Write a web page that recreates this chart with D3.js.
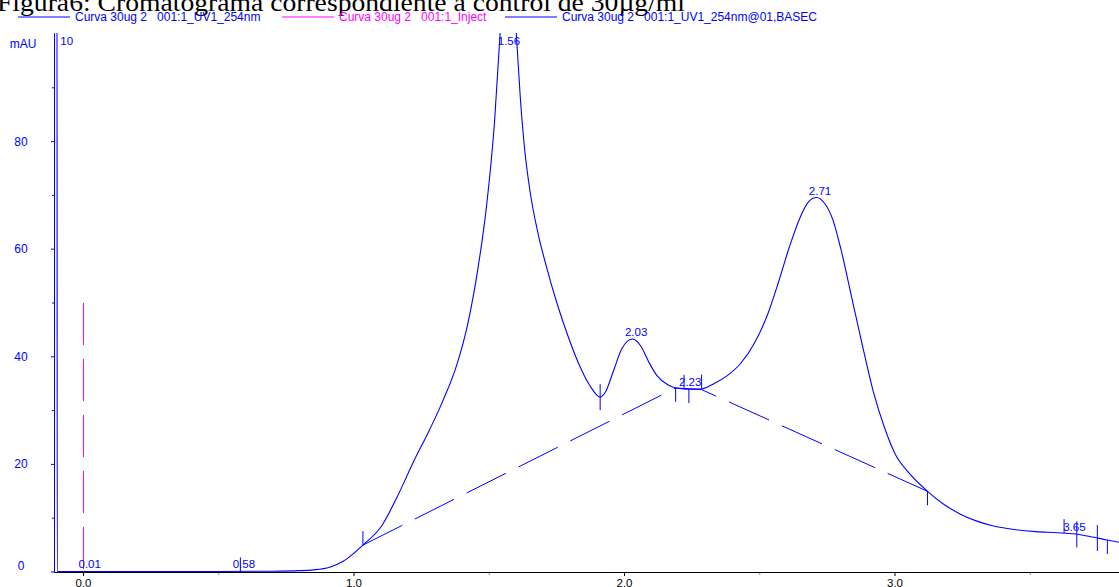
<!DOCTYPE html>
<html>
<head>
<meta charset="utf-8">
<script src="https://cdn.jsdelivr.net/npm/d3@7"></script>
<style>
  body { margin: 0; background: #fff; }
  text { white-space: pre; }
</style>
</head>
<body>
<div id="chart"></div>
<script>
// retention time (min) / signal (mAU)
const uvTimes = [-0.109, -0.1085, -0.108, -0.098, -0.097, 0.2, 0.5, 0.7, 0.8, 0.85, 0.91, 0.96, 1.033,
    1.10, 1.16, 1.22, 1.28, 1.33, 1.38, 1.42, 1.46, 1.49, 1.52, 1.54, 1.57, 1.60, 1.615, 1.63, 1.65,
    1.68, 1.71, 1.75, 1.79, 1.83, 1.87, 1.91, 1.93, 1.96, 1.99, 2.03, 2.06, 2.09, 2.12, 2.16, 2.19,
    2.23, 2.28, 2.33, 2.38, 2.43, 2.48, 2.53, 2.57, 2.61, 2.65, 2.68, 2.71, 2.74, 2.77, 2.80, 2.84,
    2.88, 2.92, 2.96, 3.00, 3.05, 3.12, 3.18, 3.24, 3.30, 3.36, 3.44, 3.52, 3.60, 3.66, 3.72, 3.78, 3.83];
const uvValues = [0.1, 0.1, 120, 120, 0.1, 0.1, 0.1, 0.15, 0.25, 0.4, 0.9, 2.0, 5.0,
    8.4, 14.0, 20.5, 26.5, 32, 38.5, 46, 57, 68, 84, 100, 115, 100, 88, 79, 71,
    63, 57, 50, 44, 38.8, 34.8, 32.5, 33.5, 37.5, 41.5, 43.3, 42, 39, 36.5, 34.8, 34.2,
    34.0, 34.0, 35.0, 36.5, 38.8, 42.5, 48, 54, 60.5, 66, 68.8, 69.6, 68.5, 65.5, 60, 51,
    42, 33.5, 27, 22, 18.5, 15.0, 12.6, 10.8, 9.5, 8.6, 7.9, 7.5, 7.3, 7.1, 6.6, 6.0, 5.5];

const injectTimes = [0.0, 0.0];
const injectValues = [50, 0];

const baseTimes = [1.033, 2.189, 2.285, 3.12];
const baseValues = [5.0, 34.2, 33.9, 15.0];

const peakLabels = ["-0.10", "0.01", "0.58", "1.56", "2.03", "2.23", "2.71", "3.65"];
const peakTimes = [-0.10, 0.01, 0.58, 1.56, 2.03, 2.23, 2.71, 3.65];

// peak delimiter ticks: time and which side of the trace they stick out
const delimTimes = [0.58, 1.033, 1.91, 2.189, 2.22, 2.238, 2.285, 3.12, 3.625, 3.672, 3.748, 3.785];
const delimKinds = ["up", "up", "both", "down", "up", "down", "up", "down", "up", "both", "both", "down"];

const xTicks = [0, 1, 2, 3];
const xMinorTicks = [0.5, 1.5, 2.5, 3.5];
const yTicks = [0, 20, 40, 60, 80];
const yMinorTicks = [10, 30, 50, 70, 90];

const legendNames = ["Curva 30ug 2   001:1_UV1_254nm", "Curva 30ug 2   001:1_Inject", "Curva 30ug 2   001:1_UV1_254nm@01,BASEC"];

const w = 1119;
const h = 587;
const pLeft = 54, pRight = 1119, pTop = 34, pBottom = 572;
const blue = "#0000ff";
const magenta = "#ff00ff";

const svg = d3.select("#chart").append("svg")
    .attr("width", w)
    .attr("height", h)
    .style("font-family", "'Liberation Sans', Arial, sans-serif");

const x = d3.scaleLinear().domain([-0.109, 3.828]).range([pLeft, pRight]);
const y = d3.scaleLinear().domain([0, 100]).range([pBottom, pTop]);

// title, cut off at the top like in the source
svg.append("text")
    .attr("x", -3)
    .attr("y", 11)
    .attr("font-family", "'Liberation Serif', 'Times New Roman', serif")
    .attr("font-size", 26)
    .attr("textLength", 688)
    .attr("lengthAdjust", "spacingAndGlyphs")
    .text("Figura6: Cromatograma correspondiente a control de 30µg/ml");

// legend
const legendX = [18, 282, 505];
const legendColors = [blue, magenta, blue];
const legend = svg.selectAll("g.legend")
    .data(legendNames)
    .enter().append("g")
    .attr("transform", (d, i) => `translate(${legendX[i]},17)`);
legend.append("line")
    .attr("x1", 0).attr("x2", 52)
    .attr("stroke", (d, i) => legendColors[i]);
legend.append("text")
    .attr("x", 57)
    .attr("y", 4)
    .attr("font-size", 12)
    .attr("fill", (d, i) => legendColors[i])
    .text(d => d);

const defs = svg.append("defs");
defs.append("clipPath").attr("id", "plot")
    .append("rect").attr("x", pLeft).attr("y", pTop - 1).attr("width", pRight - pLeft).attr("height", pBottom - pTop + 2);
defs.append("clipPath").attr("id", "labels")
    .append("rect").attr("x", 60).attr("y", pTop - 1).attr("width", pRight - 60).attr("height", pBottom - pTop + 2);

// x axis
svg.append("line")
    .attr("x1", pLeft).attr("x2", pRight)
    .attr("y1", pBottom + 0.5).attr("y2", pBottom + 0.5)
    .attr("stroke", "#000");
svg.selectAll("line.xtick")
    .data(xTicks)
    .enter().append("line")
    .attr("x1", d => x(d)).attr("x2", d => x(d))
    .attr("y1", pBottom).attr("y2", pBottom + 4)
    .attr("stroke", "#000");
svg.selectAll("line.xminor")
    .data(xMinorTicks)
    .enter().append("line")
    .attr("x1", d => x(d)).attr("x2", d => x(d))
    .attr("y1", pBottom + 1).attr("y2", pBottom + 3)
    .attr("stroke", "#999");
svg.selectAll("text.xlabel")
    .data(xTicks)
    .enter().append("text")
    .attr("x", d => x(d))
    .attr("y", pBottom + 14.5)
    .attr("text-anchor", "middle")
    .attr("font-size", 11.5)
    .text(d => d3.format(".1f")(d));

// y axis
svg.append("line")
    .attr("x1", pLeft + 0.5).attr("x2", pLeft + 0.5)
    .attr("y1", pTop).attr("y2", pBottom + 1)
    .attr("stroke", blue);
svg.selectAll("line.ytick")
    .data(yTicks)
    .enter().append("line")
    .attr("x1", pLeft - 3).attr("x2", pLeft)
    .attr("y1", d => y(d)).attr("y2", d => y(d))
    .attr("stroke", blue);
svg.selectAll("line.yminor")
    .data(yMinorTicks)
    .enter().append("line")
    .attr("x1", pLeft - 2).attr("x2", pLeft)
    .attr("y1", d => y(d)).attr("y2", d => y(d))
    .attr("stroke", blue);
svg.selectAll("text.ylabel")
    .data(yTicks)
    .enter().append("text")
    .attr("x", 21)
    .attr("y", d => Math.min(y(d), y(0) - 6) + 4)
    .attr("text-anchor", "middle")
    .attr("font-size", 12)
    .attr("fill", blue)
    .text(d => d);
svg.append("text")
    .attr("x", 23)
    .attr("y", 48)
    .attr("text-anchor", "middle")
    .attr("font-size", 12)
    .attr("fill", blue)
    .text("mAU");

const plot = svg.append("g").attr("clip-path", "url(#plot)");

const line = d3.line()
    .x(d => x(d[0]))
    .y(d => y(d[1]))
    .curve(d3.curveMonotoneX);

const uv = d3.zip(uvTimes, uvValues);
const lookup = d3.scaleLinear().domain(uvTimes.slice(4)).range(uvValues.slice(4));

// baseline (dashed)
plot.append("path")
    .datum(d3.zip(baseTimes, baseValues))
    .attr("d", d3.line().x(d => x(d[0])).y(d => y(d[1])))
    .attr("fill", "none")
    .attr("stroke", blue)
    .attr("stroke-dasharray", "44,14");

// inject marker
plot.append("path")
    .datum(d3.zip(injectTimes, injectValues))
    .attr("d", d3.line().x(d => x(d[0])).y(d => y(d[1])))
    .attr("fill", "none")
    .attr("stroke", magenta)
    .attr("stroke-dasharray", "42,14");

// UV trace
plot.append("path")
    .datum(uv)
    .attr("d", line)
    .attr("fill", "none")
    .attr("stroke", blue)
    .attr("stroke-width", 1.1);

// delimiter ticks
const ext = { up: [-14, 0], down: [0, 14], both: [-13, 13] };
plot.selectAll("line.delim")
    .data(delimTimes)
    .enter().append("line")
    .attr("x1", d => x(d)).attr("x2", d => x(d))
    .attr("y1", (d, i) => y(lookup(d)) + ext[delimKinds[i]][0])
    .attr("y2", (d, i) => y(lookup(d)) + ext[delimKinds[i]][1])
    .attr("stroke", blue);

// peak labels
svg.append("g").attr("clip-path", "url(#labels)")
    .selectAll("text")
    .data(peakTimes)
    .enter().append("text")
    .attr("x", d => x(d) + 3.5)
    .attr("y", d => {
        const v = d < 0 ? 200 : lookup(d);
        return Math.max(y(Math.min(v, 100)) - 3, pTop + 11);
    })
    .attr("text-anchor", "middle")
    .attr("font-size", 11.5)
    .attr("fill", blue)
    .text((d, i) => peakLabels[i]);
</script>
</body>
</html>
